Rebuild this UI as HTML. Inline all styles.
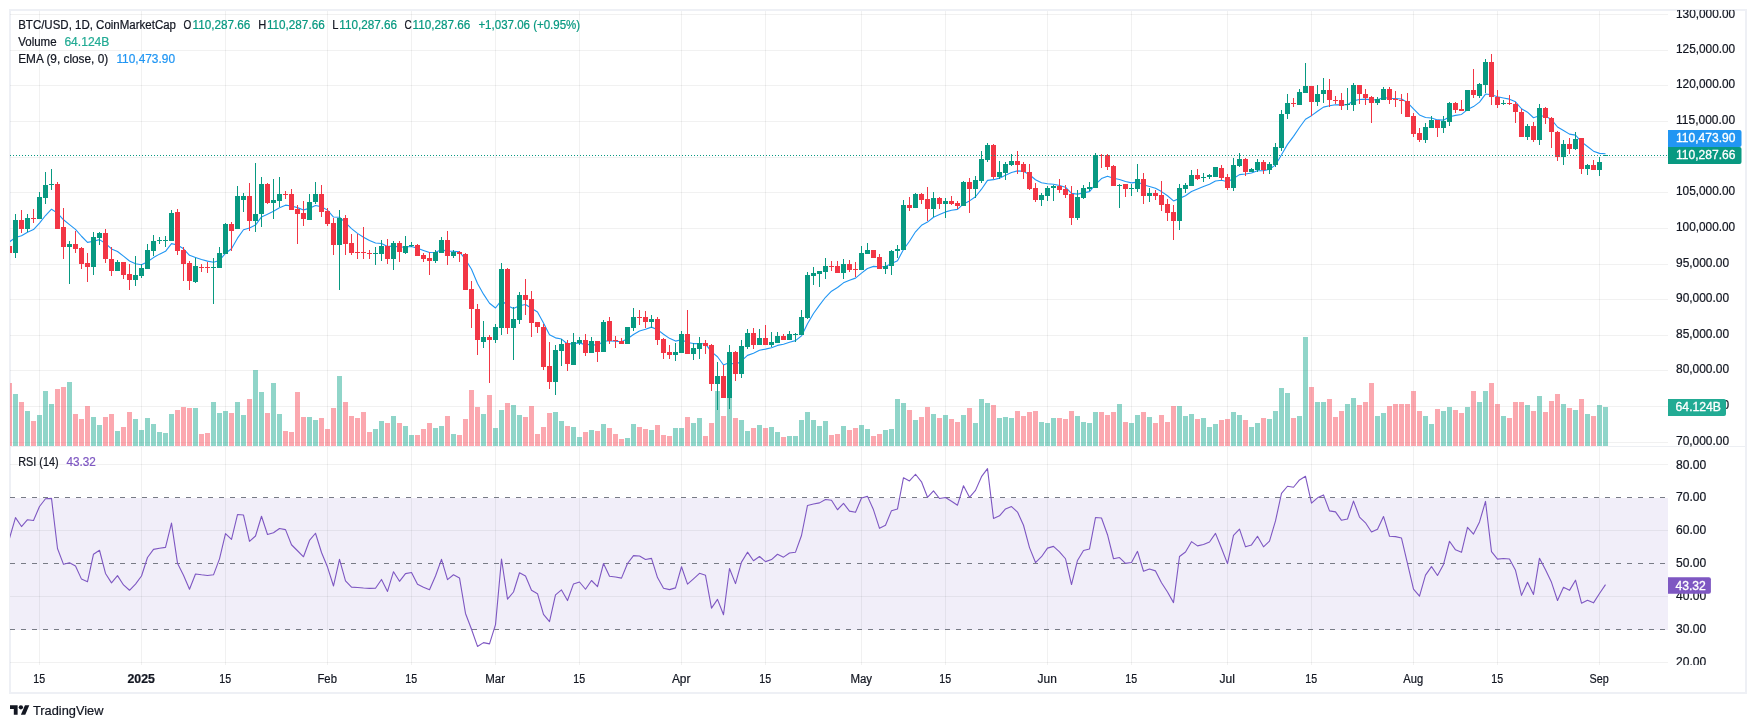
<!DOCTYPE html><html><head><meta charset="utf-8"><title>BTC/USD</title><style>html,body{margin:0;padding:0;background:#fff;width:1756px;height:728px;overflow:hidden}</style></head><body><svg width="1756" height="728" viewBox="0 0 1756 728" style="position:absolute;left:0;top:0;will-change:transform;font-family:'Liberation Sans',sans-serif">
<rect x="0" y="0" width="1756" height="728" fill="#fff"/>
<rect x="10" y="10" width="1736" height="683" fill="none" stroke="#eef0f5" stroke-width="2" shape-rendering="crispEdges"/>
<defs><clipPath id="cp"><rect x="10" y="10" width="1658" height="437"/></clipPath><clipPath id="cr"><rect x="10" y="447" width="1658" height="215"/></clipPath><clipPath id="ca"><rect x="1668" y="10" width="77" height="437"/></clipPath><clipPath id="cb"><rect x="1668" y="447" width="77" height="218"/></clipPath></defs>
<rect x="10" y="497.5" width="1658" height="132" fill="#f1eef9" shape-rendering="crispEdges"/>
<g shape-rendering="crispEdges" fill="rgba(40,50,45,0.065)"><rect x="10" y="14" width="1658" height="1"/><rect x="10" y="50" width="1658" height="1"/><rect x="10" y="85" width="1658" height="1"/><rect x="10" y="121" width="1658" height="1"/><rect x="10" y="157" width="1658" height="1"/><rect x="10" y="192" width="1658" height="1"/><rect x="10" y="228" width="1658" height="1"/><rect x="10" y="264" width="1658" height="1"/><rect x="10" y="299" width="1658" height="1"/><rect x="10" y="335" width="1658" height="1"/><rect x="10" y="370" width="1658" height="1"/><rect x="10" y="406" width="1658" height="1"/><rect x="10" y="442" width="1658" height="1"/><rect x="10" y="464" width="1658" height="1"/><rect x="10" y="530" width="1658" height="1"/><rect x="10" y="596" width="1658" height="1"/><rect x="10" y="662" width="1658" height="1"/><rect x="39" y="11" width="1" height="654"/><rect x="141" y="11" width="1" height="654"/><rect x="225" y="11" width="1" height="654"/><rect x="327" y="11" width="1" height="654"/><rect x="411" y="11" width="1" height="654"/><rect x="495" y="11" width="1" height="654"/><rect x="579" y="11" width="1" height="654"/><rect x="681" y="11" width="1" height="654"/><rect x="765" y="11" width="1" height="654"/><rect x="861" y="11" width="1" height="654"/><rect x="945" y="11" width="1" height="654"/><rect x="1047" y="11" width="1" height="654"/><rect x="1131" y="11" width="1" height="654"/><rect x="1227" y="11" width="1" height="654"/><rect x="1311" y="11" width="1" height="654"/><rect x="1413" y="11" width="1" height="654"/><rect x="1497" y="11" width="1" height="654"/><rect x="1599" y="11" width="1" height="654"/></g>
<g shape-rendering="crispEdges" fill="#edeff3"><rect x="11" y="446" width="1734" height="1"/></g>
<g shape-rendering="crispEdges" clip-path="url(#cp)"><rect x="7" y="383.2" width="5" height="62.8" fill="rgba(247,82,95,0.5)"/><rect x="13" y="394.2" width="5" height="51.8" fill="rgba(34,171,148,0.5)"/><rect x="19" y="402.2" width="5" height="43.8" fill="rgba(247,82,95,0.5)"/><rect x="25" y="411.1" width="5" height="34.9" fill="rgba(34,171,148,0.5)"/><rect x="31" y="421.1" width="5" height="24.9" fill="rgba(247,82,95,0.5)"/><rect x="37" y="415.1" width="5" height="30.9" fill="rgba(34,171,148,0.5)"/><rect x="43" y="391.2" width="5" height="54.8" fill="rgba(34,171,148,0.5)"/><rect x="49" y="404.1" width="5" height="41.9" fill="rgba(34,171,148,0.5)"/><rect x="55" y="389.2" width="5" height="56.8" fill="rgba(247,82,95,0.5)"/><rect x="61" y="387.2" width="5" height="58.8" fill="rgba(247,82,95,0.5)"/><rect x="67" y="382.2" width="5" height="63.8" fill="rgba(34,171,148,0.5)"/><rect x="73" y="414.1" width="5" height="31.9" fill="rgba(247,82,95,0.5)"/><rect x="79" y="419.1" width="5" height="26.9" fill="rgba(247,82,95,0.5)"/><rect x="85" y="406.1" width="5" height="39.9" fill="rgba(247,82,95,0.5)"/><rect x="91" y="417.1" width="5" height="28.9" fill="rgba(34,171,148,0.5)"/><rect x="97" y="425.1" width="5" height="20.9" fill="rgba(34,171,148,0.5)"/><rect x="103" y="417.1" width="5" height="28.9" fill="rgba(247,82,95,0.5)"/><rect x="109" y="414.1" width="5" height="31.9" fill="rgba(247,82,95,0.5)"/><rect x="115" y="431.1" width="5" height="14.9" fill="rgba(34,171,148,0.5)"/><rect x="121" y="427.1" width="5" height="18.9" fill="rgba(247,82,95,0.5)"/><rect x="127" y="412.1" width="5" height="33.9" fill="rgba(247,82,95,0.5)"/><rect x="133" y="419.1" width="5" height="26.9" fill="rgba(34,171,148,0.5)"/><rect x="139" y="430.1" width="5" height="15.9" fill="rgba(34,171,148,0.5)"/><rect x="145" y="418.1" width="5" height="27.9" fill="rgba(34,171,148,0.5)"/><rect x="151" y="424.1" width="5" height="21.9" fill="rgba(34,171,148,0.5)"/><rect x="157" y="432.0" width="5" height="14.0" fill="rgba(34,171,148,0.5)"/><rect x="163" y="433.0" width="5" height="13.0" fill="rgba(34,171,148,0.5)"/><rect x="169" y="414.1" width="5" height="31.9" fill="rgba(34,171,148,0.5)"/><rect x="175" y="410.1" width="5" height="35.9" fill="rgba(247,82,95,0.5)"/><rect x="181" y="407.1" width="5" height="38.9" fill="rgba(247,82,95,0.5)"/><rect x="187" y="408.1" width="5" height="37.9" fill="rgba(247,82,95,0.5)"/><rect x="193" y="408.1" width="5" height="37.9" fill="rgba(34,171,148,0.5)"/><rect x="199" y="434.0" width="5" height="12.0" fill="rgba(247,82,95,0.5)"/><rect x="205" y="433.0" width="5" height="13.0" fill="rgba(247,82,95,0.5)"/><rect x="211" y="402.2" width="5" height="43.8" fill="rgba(34,171,148,0.5)"/><rect x="217" y="413.1" width="5" height="32.9" fill="rgba(34,171,148,0.5)"/><rect x="223" y="411.1" width="5" height="34.9" fill="rgba(34,171,148,0.5)"/><rect x="229" y="413.1" width="5" height="32.9" fill="rgba(247,82,95,0.5)"/><rect x="235" y="402.2" width="5" height="43.8" fill="rgba(34,171,148,0.5)"/><rect x="241" y="415.1" width="5" height="30.9" fill="rgba(34,171,148,0.5)"/><rect x="247" y="399.2" width="5" height="46.8" fill="rgba(247,82,95,0.5)"/><rect x="253" y="370.1" width="5" height="75.9" fill="rgba(34,171,148,0.5)"/><rect x="259" y="392.2" width="5" height="53.8" fill="rgba(34,171,148,0.5)"/><rect x="265" y="413.1" width="5" height="32.9" fill="rgba(247,82,95,0.5)"/><rect x="271" y="383.2" width="5" height="62.8" fill="rgba(34,171,148,0.5)"/><rect x="277" y="414.1" width="5" height="31.9" fill="rgba(34,171,148,0.5)"/><rect x="283" y="431.1" width="5" height="14.9" fill="rgba(247,82,95,0.5)"/><rect x="289" y="432.0" width="5" height="14.0" fill="rgba(247,82,95,0.5)"/><rect x="295" y="392.2" width="5" height="53.8" fill="rgba(247,82,95,0.5)"/><rect x="301" y="417.1" width="5" height="28.9" fill="rgba(247,82,95,0.5)"/><rect x="307" y="417.1" width="5" height="28.9" fill="rgba(34,171,148,0.5)"/><rect x="313" y="420.1" width="5" height="25.9" fill="rgba(34,171,148,0.5)"/><rect x="319" y="418.1" width="5" height="27.9" fill="rgba(247,82,95,0.5)"/><rect x="325" y="429.1" width="5" height="16.9" fill="rgba(247,82,95,0.5)"/><rect x="331" y="408.1" width="5" height="37.9" fill="rgba(247,82,95,0.5)"/><rect x="337" y="376.2" width="5" height="69.8" fill="rgba(34,171,148,0.5)"/><rect x="343" y="402.2" width="5" height="43.8" fill="rgba(247,82,95,0.5)"/><rect x="349" y="416.1" width="5" height="29.9" fill="rgba(247,82,95,0.5)"/><rect x="355" y="418.1" width="5" height="27.9" fill="rgba(247,82,95,0.5)"/><rect x="361" y="412.1" width="5" height="33.9" fill="rgba(247,82,95,0.5)"/><rect x="367" y="432.0" width="5" height="14.0" fill="rgba(247,82,95,0.5)"/><rect x="373" y="429.1" width="5" height="16.9" fill="rgba(34,171,148,0.5)"/><rect x="379" y="421.1" width="5" height="24.9" fill="rgba(34,171,148,0.5)"/><rect x="385" y="423.1" width="5" height="22.9" fill="rgba(247,82,95,0.5)"/><rect x="391" y="416.1" width="5" height="29.9" fill="rgba(34,171,148,0.5)"/><rect x="397" y="423.1" width="5" height="22.9" fill="rgba(247,82,95,0.5)"/><rect x="403" y="426.1" width="5" height="19.9" fill="rgba(34,171,148,0.5)"/><rect x="409" y="435.0" width="5" height="11.0" fill="rgba(34,171,148,0.5)"/><rect x="415" y="435.0" width="5" height="11.0" fill="rgba(247,82,95,0.5)"/><rect x="421" y="429.1" width="5" height="16.9" fill="rgba(247,82,95,0.5)"/><rect x="427" y="423.1" width="5" height="22.9" fill="rgba(247,82,95,0.5)"/><rect x="433" y="428.1" width="5" height="17.9" fill="rgba(34,171,148,0.5)"/><rect x="439" y="426.1" width="5" height="19.9" fill="rgba(34,171,148,0.5)"/><rect x="445" y="416.1" width="5" height="29.9" fill="rgba(247,82,95,0.5)"/><rect x="451" y="434.0" width="5" height="12.0" fill="rgba(34,171,148,0.5)"/><rect x="457" y="435.0" width="5" height="11.0" fill="rgba(247,82,95,0.5)"/><rect x="463" y="419.1" width="5" height="26.9" fill="rgba(247,82,95,0.5)"/><rect x="469" y="390.2" width="5" height="55.8" fill="rgba(247,82,95,0.5)"/><rect x="475" y="407.1" width="5" height="38.9" fill="rgba(247,82,95,0.5)"/><rect x="481" y="414.1" width="5" height="31.9" fill="rgba(34,171,148,0.5)"/><rect x="487" y="395.2" width="5" height="50.8" fill="rgba(247,82,95,0.5)"/><rect x="493" y="428.0" width="5" height="18.0" fill="rgba(34,171,148,0.5)"/><rect x="499" y="409.9" width="5" height="36.1" fill="rgba(34,171,148,0.5)"/><rect x="505" y="402.9" width="5" height="43.1" fill="rgba(247,82,95,0.5)"/><rect x="511" y="405.1" width="5" height="40.9" fill="rgba(34,171,148,0.5)"/><rect x="517" y="414.9" width="5" height="31.1" fill="rgba(34,171,148,0.5)"/><rect x="523" y="417.0" width="5" height="29.0" fill="rgba(247,82,95,0.5)"/><rect x="529" y="406.0" width="5" height="40.0" fill="rgba(247,82,95,0.5)"/><rect x="535" y="434.0" width="5" height="12.0" fill="rgba(247,82,95,0.5)"/><rect x="541" y="427.1" width="5" height="18.9" fill="rgba(247,82,95,0.5)"/><rect x="547" y="413.0" width="5" height="33.0" fill="rgba(247,82,95,0.5)"/><rect x="553" y="412.0" width="5" height="34.0" fill="rgba(34,171,148,0.5)"/><rect x="559" y="420.9" width="5" height="25.1" fill="rgba(34,171,148,0.5)"/><rect x="565" y="425.9" width="5" height="20.1" fill="rgba(247,82,95,0.5)"/><rect x="571" y="427.1" width="5" height="18.9" fill="rgba(34,171,148,0.5)"/><rect x="577" y="437.1" width="5" height="8.9" fill="rgba(34,171,148,0.5)"/><rect x="583" y="432.1" width="5" height="13.9" fill="rgba(247,82,95,0.5)"/><rect x="589" y="430.0" width="5" height="16.0" fill="rgba(34,171,148,0.5)"/><rect x="595" y="431.1" width="5" height="14.9" fill="rgba(247,82,95,0.5)"/><rect x="601" y="424.0" width="5" height="22.0" fill="rgba(34,171,148,0.5)"/><rect x="607" y="428.0" width="5" height="18.0" fill="rgba(247,82,95,0.5)"/><rect x="613" y="434.0" width="5" height="12.0" fill="rgba(247,82,95,0.5)"/><rect x="619" y="439.1" width="5" height="6.9" fill="rgba(247,82,95,0.5)"/><rect x="625" y="438.1" width="5" height="7.9" fill="rgba(34,171,148,0.5)"/><rect x="631" y="424.0" width="5" height="22.0" fill="rgba(34,171,148,0.5)"/><rect x="637" y="427.1" width="5" height="18.9" fill="rgba(247,82,95,0.5)"/><rect x="643" y="429.0" width="5" height="17.0" fill="rgba(247,82,95,0.5)"/><rect x="649" y="430.0" width="5" height="16.0" fill="rgba(34,171,148,0.5)"/><rect x="655" y="424.9" width="5" height="21.1" fill="rgba(247,82,95,0.5)"/><rect x="661" y="435.0" width="5" height="11.0" fill="rgba(247,82,95,0.5)"/><rect x="667" y="436.0" width="5" height="10.0" fill="rgba(247,82,95,0.5)"/><rect x="673" y="428.0" width="5" height="18.0" fill="rgba(34,171,148,0.5)"/><rect x="679" y="428.0" width="5" height="18.0" fill="rgba(34,171,148,0.5)"/><rect x="685" y="417.0" width="5" height="29.0" fill="rgba(247,82,95,0.5)"/><rect x="691" y="423.0" width="5" height="23.0" fill="rgba(34,171,148,0.5)"/><rect x="697" y="418.0" width="5" height="28.0" fill="rgba(34,171,148,0.5)"/><rect x="703" y="436.0" width="5" height="10.0" fill="rgba(247,82,95,0.5)"/><rect x="709" y="423.0" width="5" height="23.0" fill="rgba(247,82,95,0.5)"/><rect x="715" y="390.9" width="5" height="55.1" fill="rgba(34,171,148,0.5)"/><rect x="721" y="415.9" width="5" height="30.1" fill="rgba(247,82,95,0.5)"/><rect x="727" y="396.5" width="5" height="49.5" fill="rgba(34,171,148,0.5)"/><rect x="733" y="418.0" width="5" height="28.0" fill="rgba(247,82,95,0.5)"/><rect x="739" y="419.9" width="5" height="26.1" fill="rgba(34,171,148,0.5)"/><rect x="745" y="431.1" width="5" height="14.9" fill="rgba(34,171,148,0.5)"/><rect x="751" y="428.0" width="5" height="18.0" fill="rgba(247,82,95,0.5)"/><rect x="757" y="424.9" width="5" height="21.1" fill="rgba(34,171,148,0.5)"/><rect x="763" y="428.0" width="5" height="18.0" fill="rgba(247,82,95,0.5)"/><rect x="769" y="426.9" width="5" height="19.1" fill="rgba(34,171,148,0.5)"/><rect x="775" y="432.1" width="5" height="13.9" fill="rgba(34,171,148,0.5)"/><rect x="781" y="437.0" width="5" height="9.0" fill="rgba(247,82,95,0.5)"/><rect x="787" y="436.0" width="5" height="10.0" fill="rgba(34,171,148,0.5)"/><rect x="793" y="436.0" width="5" height="10.0" fill="rgba(34,171,148,0.5)"/><rect x="799" y="420.1" width="5" height="25.9" fill="rgba(34,171,148,0.5)"/><rect x="805" y="412.1" width="5" height="33.9" fill="rgba(34,171,148,0.5)"/><rect x="811" y="420.1" width="5" height="25.9" fill="rgba(34,171,148,0.5)"/><rect x="817" y="426.1" width="5" height="19.9" fill="rgba(34,171,148,0.5)"/><rect x="823" y="421.1" width="5" height="24.9" fill="rgba(34,171,148,0.5)"/><rect x="829" y="435.0" width="5" height="11.0" fill="rgba(247,82,95,0.5)"/><rect x="835" y="434.0" width="5" height="12.0" fill="rgba(247,82,95,0.5)"/><rect x="841" y="426.1" width="5" height="19.9" fill="rgba(34,171,148,0.5)"/><rect x="847" y="430.1" width="5" height="15.9" fill="rgba(247,82,95,0.5)"/><rect x="853" y="428.1" width="5" height="17.9" fill="rgba(247,82,95,0.5)"/><rect x="859" y="425.1" width="5" height="20.9" fill="rgba(34,171,148,0.5)"/><rect x="865" y="429.1" width="5" height="16.9" fill="rgba(34,171,148,0.5)"/><rect x="871" y="436.0" width="5" height="10.0" fill="rgba(247,82,95,0.5)"/><rect x="877" y="434.0" width="5" height="12.0" fill="rgba(247,82,95,0.5)"/><rect x="883" y="430.1" width="5" height="15.9" fill="rgba(34,171,148,0.5)"/><rect x="889" y="429.1" width="5" height="16.9" fill="rgba(34,171,148,0.5)"/><rect x="895" y="399.2" width="5" height="46.8" fill="rgba(34,171,148,0.5)"/><rect x="901" y="403.1" width="5" height="42.9" fill="rgba(34,171,148,0.5)"/><rect x="907" y="410.1" width="5" height="35.9" fill="rgba(247,82,95,0.5)"/><rect x="913" y="420.1" width="5" height="25.9" fill="rgba(34,171,148,0.5)"/><rect x="919" y="417.1" width="5" height="28.9" fill="rgba(247,82,95,0.5)"/><rect x="925" y="407.1" width="5" height="38.9" fill="rgba(247,82,95,0.5)"/><rect x="931" y="414.1" width="5" height="31.9" fill="rgba(34,171,148,0.5)"/><rect x="937" y="418.1" width="5" height="27.9" fill="rgba(247,82,95,0.5)"/><rect x="943" y="415.1" width="5" height="30.9" fill="rgba(34,171,148,0.5)"/><rect x="949" y="419.1" width="5" height="26.9" fill="rgba(247,82,95,0.5)"/><rect x="955" y="422.1" width="5" height="23.9" fill="rgba(247,82,95,0.5)"/><rect x="961" y="415.1" width="5" height="30.9" fill="rgba(34,171,148,0.5)"/><rect x="967" y="408.1" width="5" height="37.9" fill="rgba(247,82,95,0.5)"/><rect x="973" y="423.1" width="5" height="22.9" fill="rgba(34,171,148,0.5)"/><rect x="979" y="399.2" width="5" height="46.8" fill="rgba(34,171,148,0.5)"/><rect x="985" y="403.1" width="5" height="42.9" fill="rgba(34,171,148,0.5)"/><rect x="991" y="405.1" width="5" height="40.9" fill="rgba(247,82,95,0.5)"/><rect x="997" y="418.1" width="5" height="27.9" fill="rgba(34,171,148,0.5)"/><rect x="1003" y="417.1" width="5" height="28.9" fill="rgba(34,171,148,0.5)"/><rect x="1009" y="418.1" width="5" height="27.9" fill="rgba(34,171,148,0.5)"/><rect x="1015" y="411.1" width="5" height="34.9" fill="rgba(247,82,95,0.5)"/><rect x="1021" y="416.1" width="5" height="29.9" fill="rgba(247,82,95,0.5)"/><rect x="1027" y="412.1" width="5" height="33.9" fill="rgba(247,82,95,0.5)"/><rect x="1033" y="411.1" width="5" height="34.9" fill="rgba(247,82,95,0.5)"/><rect x="1039" y="422.1" width="5" height="23.9" fill="rgba(34,171,148,0.5)"/><rect x="1045" y="423.1" width="5" height="22.9" fill="rgba(34,171,148,0.5)"/><rect x="1051" y="418.1" width="5" height="27.9" fill="rgba(34,171,148,0.5)"/><rect x="1057" y="418.1" width="5" height="27.9" fill="rgba(247,82,95,0.5)"/><rect x="1063" y="419.1" width="5" height="26.9" fill="rgba(247,82,95,0.5)"/><rect x="1069" y="411.1" width="5" height="34.9" fill="rgba(247,82,95,0.5)"/><rect x="1075" y="416.1" width="5" height="29.9" fill="rgba(34,171,148,0.5)"/><rect x="1081" y="422.1" width="5" height="23.9" fill="rgba(34,171,148,0.5)"/><rect x="1087" y="423.1" width="5" height="22.9" fill="rgba(34,171,148,0.5)"/><rect x="1093" y="412.1" width="5" height="33.9" fill="rgba(34,171,148,0.5)"/><rect x="1099" y="412.1" width="5" height="33.9" fill="rgba(247,82,95,0.5)"/><rect x="1105" y="415.1" width="5" height="30.9" fill="rgba(247,82,95,0.5)"/><rect x="1111" y="412.1" width="5" height="33.9" fill="rgba(247,82,95,0.5)"/><rect x="1117" y="404.1" width="5" height="41.9" fill="rgba(34,171,148,0.5)"/><rect x="1123" y="422.1" width="5" height="23.9" fill="rgba(247,82,95,0.5)"/><rect x="1129" y="423.1" width="5" height="22.9" fill="rgba(34,171,148,0.5)"/><rect x="1135" y="415.1" width="5" height="30.9" fill="rgba(34,171,148,0.5)"/><rect x="1141" y="412.1" width="5" height="33.9" fill="rgba(247,82,95,0.5)"/><rect x="1147" y="417.1" width="5" height="28.9" fill="rgba(34,171,148,0.5)"/><rect x="1153" y="423.1" width="5" height="22.9" fill="rgba(247,82,95,0.5)"/><rect x="1159" y="415.1" width="5" height="30.9" fill="rgba(247,82,95,0.5)"/><rect x="1165" y="422.1" width="5" height="23.9" fill="rgba(247,82,95,0.5)"/><rect x="1171" y="406.1" width="5" height="39.9" fill="rgba(247,82,95,0.5)"/><rect x="1177" y="406.1" width="5" height="39.9" fill="rgba(34,171,148,0.5)"/><rect x="1183" y="416.1" width="5" height="29.9" fill="rgba(34,171,148,0.5)"/><rect x="1189" y="414.1" width="5" height="31.9" fill="rgba(34,171,148,0.5)"/><rect x="1195" y="419.1" width="5" height="26.9" fill="rgba(247,82,95,0.5)"/><rect x="1201" y="418.1" width="5" height="27.9" fill="rgba(34,171,148,0.5)"/><rect x="1207" y="427.1" width="5" height="18.9" fill="rgba(34,171,148,0.5)"/><rect x="1213" y="424.1" width="5" height="21.9" fill="rgba(34,171,148,0.5)"/><rect x="1219" y="420.1" width="5" height="25.9" fill="rgba(247,82,95,0.5)"/><rect x="1225" y="419.1" width="5" height="26.9" fill="rgba(247,82,95,0.5)"/><rect x="1231" y="412.1" width="5" height="33.9" fill="rgba(34,171,148,0.5)"/><rect x="1237" y="415.1" width="5" height="30.9" fill="rgba(34,171,148,0.5)"/><rect x="1243" y="420.1" width="5" height="25.9" fill="rgba(247,82,95,0.5)"/><rect x="1249" y="426.8" width="5" height="19.2" fill="rgba(34,171,148,0.5)"/><rect x="1255" y="422.8" width="5" height="23.2" fill="rgba(34,171,148,0.5)"/><rect x="1261" y="417.8" width="5" height="28.2" fill="rgba(247,82,95,0.5)"/><rect x="1267" y="418.9" width="5" height="27.1" fill="rgba(34,171,148,0.5)"/><rect x="1273" y="410.8" width="5" height="35.2" fill="rgba(34,171,148,0.5)"/><rect x="1279" y="387.8" width="5" height="58.2" fill="rgba(34,171,148,0.5)"/><rect x="1285" y="392.8" width="5" height="53.2" fill="rgba(34,171,148,0.5)"/><rect x="1291" y="417.8" width="5" height="28.2" fill="rgba(247,82,95,0.5)"/><rect x="1297" y="415.8" width="5" height="30.2" fill="rgba(34,171,148,0.5)"/><rect x="1303" y="336.9" width="5" height="109.1" fill="rgba(34,171,148,0.5)"/><rect x="1309" y="386.8" width="5" height="59.2" fill="rgba(247,82,95,0.5)"/><rect x="1315" y="401.9" width="5" height="44.1" fill="rgba(34,171,148,0.5)"/><rect x="1321" y="401.9" width="5" height="44.1" fill="rgba(34,171,148,0.5)"/><rect x="1327" y="398.8" width="5" height="47.2" fill="rgba(247,82,95,0.5)"/><rect x="1333" y="416.8" width="5" height="29.2" fill="rgba(247,82,95,0.5)"/><rect x="1339" y="410.8" width="5" height="35.2" fill="rgba(247,82,95,0.5)"/><rect x="1345" y="403.8" width="5" height="42.2" fill="rgba(34,171,148,0.5)"/><rect x="1351" y="397.7" width="5" height="48.3" fill="rgba(34,171,148,0.5)"/><rect x="1357" y="404.8" width="5" height="41.2" fill="rgba(247,82,95,0.5)"/><rect x="1363" y="401.9" width="5" height="44.1" fill="rgba(247,82,95,0.5)"/><rect x="1369" y="382.8" width="5" height="63.2" fill="rgba(247,82,95,0.5)"/><rect x="1375" y="415.8" width="5" height="30.2" fill="rgba(34,171,148,0.5)"/><rect x="1381" y="412.9" width="5" height="33.1" fill="rgba(34,171,148,0.5)"/><rect x="1387" y="405.8" width="5" height="40.2" fill="rgba(247,82,95,0.5)"/><rect x="1393" y="403.8" width="5" height="42.2" fill="rgba(247,82,95,0.5)"/><rect x="1399" y="403.8" width="5" height="42.2" fill="rgba(247,82,95,0.5)"/><rect x="1405" y="403.8" width="5" height="42.2" fill="rgba(247,82,95,0.5)"/><rect x="1411" y="390.7" width="5" height="55.3" fill="rgba(247,82,95,0.5)"/><rect x="1417" y="410.8" width="5" height="35.2" fill="rgba(247,82,95,0.5)"/><rect x="1423" y="415.8" width="5" height="30.2" fill="rgba(34,171,148,0.5)"/><rect x="1429" y="423.8" width="5" height="22.2" fill="rgba(34,171,148,0.5)"/><rect x="1435" y="408.7" width="5" height="37.3" fill="rgba(247,82,95,0.5)"/><rect x="1441" y="410.8" width="5" height="35.2" fill="rgba(34,171,148,0.5)"/><rect x="1447" y="406.8" width="5" height="39.2" fill="rgba(34,171,148,0.5)"/><rect x="1453" y="409.8" width="5" height="36.2" fill="rgba(247,82,95,0.5)"/><rect x="1459" y="412.9" width="5" height="33.1" fill="rgba(247,82,95,0.5)"/><rect x="1465" y="406.8" width="5" height="39.2" fill="rgba(34,171,148,0.5)"/><rect x="1471" y="390.7" width="5" height="55.3" fill="rgba(247,82,95,0.5)"/><rect x="1477" y="401.9" width="5" height="44.1" fill="rgba(34,171,148,0.5)"/><rect x="1483" y="390.7" width="5" height="55.3" fill="rgba(34,171,148,0.5)"/><rect x="1489" y="382.8" width="5" height="63.2" fill="rgba(247,82,95,0.5)"/><rect x="1495" y="403.8" width="5" height="42.2" fill="rgba(247,82,95,0.5)"/><rect x="1501" y="415.8" width="5" height="30.2" fill="rgba(34,171,148,0.5)"/><rect x="1507" y="417.8" width="5" height="28.2" fill="rgba(247,82,95,0.5)"/><rect x="1513" y="401.9" width="5" height="44.1" fill="rgba(247,82,95,0.5)"/><rect x="1519" y="401.8" width="5" height="44.2" fill="rgba(247,82,95,0.5)"/><rect x="1525" y="404.9" width="5" height="41.1" fill="rgba(34,171,148,0.5)"/><rect x="1531" y="411.0" width="5" height="35.0" fill="rgba(247,82,95,0.5)"/><rect x="1537" y="395.9" width="5" height="50.1" fill="rgba(34,171,148,0.5)"/><rect x="1543" y="411.9" width="5" height="34.1" fill="rgba(247,82,95,0.5)"/><rect x="1549" y="400.8" width="5" height="45.2" fill="rgba(247,82,95,0.5)"/><rect x="1555" y="393.9" width="5" height="52.1" fill="rgba(247,82,95,0.5)"/><rect x="1561" y="403.9" width="5" height="42.1" fill="rgba(34,171,148,0.5)"/><rect x="1567" y="407.9" width="5" height="38.1" fill="rgba(247,82,95,0.5)"/><rect x="1573" y="409.9" width="5" height="36.1" fill="rgba(34,171,148,0.5)"/><rect x="1579" y="398.8" width="5" height="47.2" fill="rgba(247,82,95,0.5)"/><rect x="1585" y="413.9" width="5" height="32.1" fill="rgba(34,171,148,0.5)"/><rect x="1591" y="415.9" width="5" height="30.1" fill="rgba(247,82,95,0.5)"/><rect x="1597" y="404.9" width="5" height="41.1" fill="rgba(34,171,148,0.5)"/><rect x="1603" y="406.9" width="5" height="39.1" fill="rgba(34,171,148,0.5)"/></g>
<polyline points="9.5,241.82 15.5,237.48 21.5,235.70 27.5,232.18 33.5,229.61 39.5,223.10 45.5,215.51 51.5,209.23 57.5,213.10 63.5,219.78 69.5,224.63 75.5,229.42 81.5,236.26 87.5,242.34 93.5,241.32 99.5,239.60 105.5,243.45 111.5,248.93 117.5,251.53 123.5,256.17 129.5,261.04 135.5,263.82 141.5,264.68 147.5,261.75 153.5,257.59 159.5,254.13 165.5,251.29 171.5,243.60 177.5,245.08 183.5,248.81 189.5,255.34 195.5,257.47 201.5,259.47 207.5,261.15 213.5,262.33 219.5,260.47 225.5,253.21 231.5,248.72 237.5,238.17 243.5,229.73 249.5,227.92 255.5,225.11 261.5,216.89 267.5,214.14 273.5,211.33 279.5,207.84 285.5,205.13 291.5,206.06 297.5,207.62 303.5,209.90 309.5,208.35 315.5,205.46 321.5,206.73 327.5,210.14 333.5,217.07 339.5,217.25 345.5,222.55 351.5,228.57 357.5,233.38 363.5,237.22 369.5,240.51 375.5,243.01 381.5,243.57 387.5,246.58 393.5,245.89 399.5,247.19 405.5,246.92 411.5,246.49 417.5,248.34 423.5,250.43 429.5,252.47 435.5,252.30 441.5,249.85 447.5,251.14 453.5,251.27 459.5,251.87 465.5,259.44 471.5,269.33 477.5,283.42 483.5,294.16 489.5,303.28 495.5,307.99 501.5,300.21 507.5,305.74 513.5,308.43 519.5,305.71 525.5,304.49 531.5,308.17 537.5,312.02 543.5,323.01 549.5,334.78 555.5,337.84 561.5,339.05 567.5,344.02 573.5,343.67 579.5,342.89 585.5,344.87 591.5,344.14 597.5,345.66 603.5,340.98 609.5,341.07 615.5,341.15 621.5,341.70 627.5,338.76 633.5,334.43 639.5,331.05 645.5,329.21 651.5,327.12 657.5,329.66 663.5,334.28 669.5,338.35 675.5,341.11 681.5,339.69 687.5,342.47 693.5,343.58 699.5,343.44 705.5,343.95 711.5,351.89 717.5,356.72 723.5,364.96 729.5,362.40 735.5,364.68 741.5,360.93 747.5,355.39 753.5,353.30 759.5,350.26 765.5,349.12 771.5,347.75 777.5,345.41 783.5,344.30 789.5,342.26 795.5,340.62 801.5,335.90 807.5,323.71 813.5,313.54 819.5,305.08 825.5,297.28 831.5,291.21 837.5,287.55 843.5,282.84 849.5,280.23 855.5,278.11 861.5,273.11 867.5,268.49 873.5,266.36 879.5,266.80 885.5,266.59 891.5,263.53 897.5,260.68 903.5,249.53 909.5,241.23 915.5,231.79 921.5,225.35 927.5,222.06 933.5,217.27 939.5,214.56 945.5,211.90 951.5,210.30 957.5,209.40 963.5,203.93 969.5,200.92 975.5,196.74 981.5,189.19 987.5,180.35 993.5,179.67 999.5,178.13 1005.5,175.33 1011.5,172.48 1017.5,170.90 1023.5,171.20 1029.5,174.73 1035.5,179.75 1041.5,182.81 1047.5,183.82 1053.5,184.29 1059.5,185.42 1065.5,187.26 1071.5,193.36 1077.5,194.11 1083.5,192.86 1089.5,191.65 1095.5,184.29 1101.5,178.53 1107.5,176.15 1113.5,178.20 1119.5,179.51 1125.5,181.51 1131.5,182.86 1137.5,182.09 1143.5,184.80 1149.5,186.44 1155.5,188.29 1161.5,191.58 1167.5,195.78 1173.5,200.91 1179.5,198.38 1185.5,195.74 1191.5,191.56 1197.5,189.05 1203.5,186.54 1209.5,184.33 1215.5,180.95 1221.5,180.32 1227.5,181.78 1233.5,178.50 1239.5,174.65 1245.5,174.03 1251.5,173.05 1257.5,170.81 1263.5,170.68 1269.5,169.33 1275.5,164.92 1281.5,154.71 1287.5,144.40 1293.5,136.32 1299.5,127.50 1305.5,119.21 1311.5,115.67 1317.5,111.32 1323.5,107.09 1329.5,105.77 1335.5,104.71 1341.5,104.90 1347.5,104.71 1353.5,100.78 1359.5,99.48 1365.5,99.15 1371.5,99.83 1377.5,99.75 1383.5,97.63 1389.5,98.20 1395.5,98.62 1401.5,99.07 1407.5,102.57 1413.5,108.83 1419.5,114.99 1425.5,117.45 1431.5,117.97 1437.5,119.91 1443.5,120.15 1449.5,116.75 1455.5,115.35 1461.5,114.44 1467.5,109.59 1473.5,106.61 1479.5,102.09 1485.5,94.06 1491.5,94.73 1497.5,96.70 1503.5,97.95 1509.5,99.16 1515.5,101.82 1521.5,108.76 1527.5,112.18 1533.5,117.75 1539.5,115.82 1545.5,116.34 1551.5,119.56 1557.5,126.98 1563.5,130.43 1569.5,134.11 1575.5,135.11 1581.5,141.88 1587.5,146.50 1593.5,151.16 1599.5,153.36 1605.5,153.79" fill="none" stroke="#2196f3" stroke-width="1.1" stroke-linejoin="round" clip-path="url(#cp)"/>
<g shape-rendering="crispEdges" clip-path="url(#cp)"><rect x="9" y="246" width="1" height="7" fill="#f23645"/><rect x="7" y="246" width="5" height="7" fill="#f23645"/><rect x="15" y="214" width="1" height="44" fill="#089981"/><rect x="13" y="220" width="5" height="33" fill="#089981"/><rect x="21" y="210" width="1" height="23" fill="#f23645"/><rect x="19" y="220" width="5" height="9" fill="#f23645"/><rect x="27" y="214" width="1" height="18" fill="#089981"/><rect x="25" y="218" width="5" height="11" fill="#089981"/><rect x="33" y="209" width="1" height="14" fill="#f23645"/><rect x="31" y="218" width="5" height="1" fill="#f23645"/><rect x="39" y="192" width="1" height="27" fill="#089981"/><rect x="37" y="197" width="5" height="22" fill="#089981"/><rect x="45" y="172" width="1" height="32" fill="#089981"/><rect x="43" y="185" width="5" height="13" fill="#089981"/><rect x="51" y="169" width="1" height="21" fill="#089981"/><rect x="49" y="184" width="5" height="1" fill="#089981"/><rect x="57" y="182" width="1" height="47" fill="#f23645"/><rect x="55" y="184" width="5" height="45" fill="#f23645"/><rect x="63" y="208" width="1" height="51" fill="#f23645"/><rect x="61" y="227" width="5" height="20" fill="#f23645"/><rect x="69" y="241" width="1" height="43" fill="#089981"/><rect x="67" y="244" width="5" height="3" fill="#089981"/><rect x="75" y="231" width="1" height="22" fill="#f23645"/><rect x="73" y="244" width="5" height="5" fill="#f23645"/><rect x="81" y="247" width="1" height="22" fill="#f23645"/><rect x="79" y="248" width="5" height="16" fill="#f23645"/><rect x="87" y="253" width="1" height="29" fill="#f23645"/><rect x="85" y="263" width="5" height="4" fill="#f23645"/><rect x="93" y="232" width="1" height="43" fill="#089981"/><rect x="91" y="237" width="5" height="30" fill="#089981"/><rect x="99" y="232" width="1" height="13" fill="#089981"/><rect x="97" y="233" width="5" height="5" fill="#089981"/><rect x="105" y="229" width="1" height="34" fill="#f23645"/><rect x="103" y="233" width="5" height="26" fill="#f23645"/><rect x="111" y="247" width="1" height="29" fill="#f23645"/><rect x="109" y="259" width="5" height="12" fill="#f23645"/><rect x="117" y="260" width="1" height="11" fill="#089981"/><rect x="115" y="262" width="5" height="9" fill="#089981"/><rect x="123" y="262" width="1" height="17" fill="#f23645"/><rect x="121" y="262" width="5" height="13" fill="#f23645"/><rect x="129" y="264" width="1" height="26" fill="#f23645"/><rect x="127" y="274" width="5" height="6" fill="#f23645"/><rect x="135" y="256" width="1" height="30" fill="#089981"/><rect x="133" y="275" width="5" height="5" fill="#089981"/><rect x="141" y="264" width="1" height="14" fill="#089981"/><rect x="139" y="268" width="5" height="8" fill="#089981"/><rect x="147" y="244" width="1" height="25" fill="#089981"/><rect x="145" y="250" width="5" height="19" fill="#089981"/><rect x="153" y="235" width="1" height="21" fill="#089981"/><rect x="151" y="241" width="5" height="10" fill="#089981"/><rect x="159" y="237" width="1" height="7" fill="#089981"/><rect x="157" y="240" width="5" height="1" fill="#089981"/><rect x="165" y="236" width="1" height="11" fill="#089981"/><rect x="163" y="240" width="5" height="1" fill="#089981"/><rect x="171" y="210" width="1" height="31" fill="#089981"/><rect x="169" y="213" width="5" height="28" fill="#089981"/><rect x="177" y="209" width="1" height="46" fill="#f23645"/><rect x="175" y="212" width="5" height="39" fill="#f23645"/><rect x="183" y="247" width="1" height="34" fill="#f23645"/><rect x="181" y="250" width="5" height="14" fill="#f23645"/><rect x="189" y="261" width="1" height="29" fill="#f23645"/><rect x="187" y="263" width="5" height="18" fill="#f23645"/><rect x="195" y="258" width="1" height="25" fill="#089981"/><rect x="193" y="266" width="5" height="16" fill="#089981"/><rect x="201" y="264" width="1" height="8" fill="#f23645"/><rect x="199" y="267" width="5" height="1" fill="#f23645"/><rect x="207" y="262" width="1" height="11" fill="#f23645"/><rect x="205" y="267" width="5" height="1" fill="#f23645"/><rect x="213" y="258" width="1" height="46" fill="#089981"/><rect x="211" y="267" width="5" height="1" fill="#089981"/><rect x="219" y="247" width="1" height="21" fill="#089981"/><rect x="217" y="253" width="5" height="15" fill="#089981"/><rect x="225" y="223" width="1" height="31" fill="#089981"/><rect x="223" y="224" width="5" height="30" fill="#089981"/><rect x="231" y="222" width="1" height="29" fill="#f23645"/><rect x="229" y="224" width="5" height="7" fill="#f23645"/><rect x="237" y="186" width="1" height="43" fill="#089981"/><rect x="235" y="196" width="5" height="33" fill="#089981"/><rect x="243" y="193" width="1" height="19" fill="#089981"/><rect x="241" y="196" width="5" height="4" fill="#089981"/><rect x="249" y="183" width="1" height="48" fill="#f23645"/><rect x="247" y="196" width="5" height="25" fill="#f23645"/><rect x="255" y="163" width="1" height="69" fill="#089981"/><rect x="253" y="214" width="5" height="7" fill="#089981"/><rect x="261" y="177" width="1" height="50" fill="#089981"/><rect x="259" y="184" width="5" height="30" fill="#089981"/><rect x="267" y="183" width="1" height="21" fill="#f23645"/><rect x="265" y="184" width="5" height="19" fill="#f23645"/><rect x="273" y="179" width="1" height="40" fill="#089981"/><rect x="271" y="200" width="5" height="3" fill="#089981"/><rect x="279" y="177" width="1" height="30" fill="#089981"/><rect x="277" y="194" width="5" height="7" fill="#089981"/><rect x="285" y="191" width="1" height="8" fill="#f23645"/><rect x="283" y="194" width="5" height="1" fill="#f23645"/><rect x="291" y="189" width="1" height="21" fill="#f23645"/><rect x="289" y="194" width="5" height="16" fill="#f23645"/><rect x="297" y="205" width="1" height="39" fill="#f23645"/><rect x="295" y="209" width="5" height="5" fill="#f23645"/><rect x="303" y="201" width="1" height="25" fill="#f23645"/><rect x="301" y="213" width="5" height="6" fill="#f23645"/><rect x="309" y="194" width="1" height="26" fill="#089981"/><rect x="307" y="202" width="5" height="18" fill="#089981"/><rect x="315" y="182" width="1" height="22" fill="#089981"/><rect x="313" y="194" width="5" height="8" fill="#089981"/><rect x="321" y="185" width="1" height="32" fill="#f23645"/><rect x="319" y="194" width="5" height="18" fill="#f23645"/><rect x="327" y="208" width="1" height="18" fill="#f23645"/><rect x="325" y="211" width="5" height="13" fill="#f23645"/><rect x="333" y="218" width="1" height="37" fill="#f23645"/><rect x="331" y="223" width="5" height="22" fill="#f23645"/><rect x="339" y="210" width="1" height="80" fill="#089981"/><rect x="337" y="218" width="5" height="27" fill="#089981"/><rect x="345" y="215" width="1" height="40" fill="#f23645"/><rect x="343" y="218" width="5" height="26" fill="#f23645"/><rect x="351" y="234" width="1" height="21" fill="#f23645"/><rect x="349" y="243" width="5" height="10" fill="#f23645"/><rect x="357" y="234" width="1" height="25" fill="#f23645"/><rect x="355" y="252" width="5" height="1" fill="#f23645"/><rect x="363" y="227" width="1" height="32" fill="#f23645"/><rect x="361" y="252" width="5" height="1" fill="#f23645"/><rect x="369" y="250" width="1" height="9" fill="#f23645"/><rect x="367" y="253" width="5" height="1" fill="#f23645"/><rect x="375" y="247" width="1" height="18" fill="#089981"/><rect x="373" y="253" width="5" height="1" fill="#089981"/><rect x="381" y="240" width="1" height="21" fill="#089981"/><rect x="379" y="246" width="5" height="8" fill="#089981"/><rect x="387" y="239" width="1" height="25" fill="#f23645"/><rect x="385" y="246" width="5" height="13" fill="#f23645"/><rect x="393" y="241" width="1" height="29" fill="#089981"/><rect x="391" y="243" width="5" height="16" fill="#089981"/><rect x="399" y="241" width="1" height="21" fill="#f23645"/><rect x="397" y="243" width="5" height="9" fill="#f23645"/><rect x="405" y="236" width="1" height="18" fill="#089981"/><rect x="403" y="246" width="5" height="7" fill="#089981"/><rect x="411" y="242" width="1" height="5" fill="#089981"/><rect x="409" y="245" width="5" height="1" fill="#089981"/><rect x="417" y="244" width="1" height="12" fill="#f23645"/><rect x="415" y="245" width="5" height="11" fill="#f23645"/><rect x="423" y="253" width="1" height="9" fill="#f23645"/><rect x="421" y="255" width="5" height="4" fill="#f23645"/><rect x="429" y="252" width="1" height="23" fill="#f23645"/><rect x="427" y="258" width="5" height="3" fill="#f23645"/><rect x="435" y="250" width="1" height="13" fill="#089981"/><rect x="433" y="252" width="5" height="9" fill="#089981"/><rect x="441" y="237" width="1" height="16" fill="#089981"/><rect x="439" y="240" width="5" height="13" fill="#089981"/><rect x="447" y="231" width="1" height="34" fill="#f23645"/><rect x="445" y="240" width="5" height="16" fill="#f23645"/><rect x="453" y="250" width="1" height="8" fill="#089981"/><rect x="451" y="252" width="5" height="4" fill="#089981"/><rect x="459" y="251" width="1" height="11" fill="#f23645"/><rect x="457" y="252" width="5" height="2" fill="#f23645"/><rect x="465" y="253" width="1" height="37" fill="#f23645"/><rect x="463" y="254" width="5" height="36" fill="#f23645"/><rect x="471" y="281" width="1" height="47" fill="#f23645"/><rect x="469" y="289" width="5" height="20" fill="#f23645"/><rect x="477" y="304" width="1" height="51" fill="#f23645"/><rect x="475" y="309" width="5" height="31" fill="#f23645"/><rect x="483" y="321" width="1" height="27" fill="#089981"/><rect x="481" y="337" width="5" height="5" fill="#089981"/><rect x="489" y="335" width="1" height="48" fill="#f23645"/><rect x="487" y="337" width="5" height="3" fill="#f23645"/><rect x="495" y="324" width="1" height="19" fill="#089981"/><rect x="493" y="327" width="5" height="13" fill="#089981"/><rect x="501" y="263" width="1" height="72" fill="#089981"/><rect x="499" y="269" width="5" height="59" fill="#089981"/><rect x="507" y="268" width="1" height="66" fill="#f23645"/><rect x="505" y="269" width="5" height="59" fill="#f23645"/><rect x="513" y="307" width="1" height="53" fill="#089981"/><rect x="511" y="319" width="5" height="9" fill="#089981"/><rect x="519" y="292" width="1" height="32" fill="#089981"/><rect x="517" y="295" width="5" height="25" fill="#089981"/><rect x="525" y="279" width="1" height="36" fill="#f23645"/><rect x="523" y="295" width="5" height="5" fill="#f23645"/><rect x="531" y="291" width="1" height="46" fill="#f23645"/><rect x="529" y="299" width="5" height="24" fill="#f23645"/><rect x="537" y="322" width="1" height="11" fill="#f23645"/><rect x="535" y="322" width="5" height="5" fill="#f23645"/><rect x="543" y="324" width="1" height="46" fill="#f23645"/><rect x="541" y="327" width="5" height="40" fill="#f23645"/><rect x="549" y="342" width="1" height="47" fill="#f23645"/><rect x="547" y="366" width="5" height="16" fill="#f23645"/><rect x="555" y="345" width="1" height="50" fill="#089981"/><rect x="553" y="350" width="5" height="32" fill="#089981"/><rect x="561" y="339" width="1" height="27" fill="#089981"/><rect x="559" y="344" width="5" height="7" fill="#089981"/><rect x="567" y="340" width="1" height="31" fill="#f23645"/><rect x="565" y="343" width="5" height="21" fill="#f23645"/><rect x="573" y="333" width="1" height="32" fill="#089981"/><rect x="571" y="342" width="5" height="23" fill="#089981"/><rect x="579" y="337" width="1" height="8" fill="#089981"/><rect x="577" y="340" width="5" height="3" fill="#089981"/><rect x="585" y="334" width="1" height="22" fill="#f23645"/><rect x="583" y="340" width="5" height="13" fill="#f23645"/><rect x="591" y="337" width="1" height="16" fill="#089981"/><rect x="589" y="341" width="5" height="12" fill="#089981"/><rect x="597" y="341" width="1" height="21" fill="#f23645"/><rect x="595" y="341" width="5" height="11" fill="#f23645"/><rect x="603" y="320" width="1" height="32" fill="#089981"/><rect x="601" y="322" width="5" height="30" fill="#089981"/><rect x="609" y="317" width="1" height="27" fill="#f23645"/><rect x="607" y="321" width="5" height="20" fill="#f23645"/><rect x="615" y="336" width="1" height="12" fill="#f23645"/><rect x="613" y="340" width="5" height="1" fill="#f23645"/><rect x="621" y="338" width="1" height="6" fill="#f23645"/><rect x="619" y="341" width="5" height="3" fill="#f23645"/><rect x="627" y="327" width="1" height="17" fill="#089981"/><rect x="625" y="327" width="5" height="17" fill="#089981"/><rect x="633" y="308" width="1" height="23" fill="#089981"/><rect x="631" y="317" width="5" height="11" fill="#089981"/><rect x="639" y="310" width="1" height="15" fill="#f23645"/><rect x="637" y="317" width="5" height="1" fill="#f23645"/><rect x="645" y="311" width="1" height="17" fill="#f23645"/><rect x="643" y="317" width="5" height="5" fill="#f23645"/><rect x="651" y="315" width="1" height="13" fill="#089981"/><rect x="649" y="319" width="5" height="3" fill="#089981"/><rect x="657" y="317" width="1" height="28" fill="#f23645"/><rect x="655" y="319" width="5" height="21" fill="#f23645"/><rect x="663" y="338" width="1" height="21" fill="#f23645"/><rect x="661" y="339" width="5" height="14" fill="#f23645"/><rect x="669" y="345" width="1" height="14" fill="#f23645"/><rect x="667" y="352" width="5" height="3" fill="#f23645"/><rect x="675" y="343" width="1" height="18" fill="#089981"/><rect x="673" y="352" width="5" height="3" fill="#089981"/><rect x="681" y="331" width="1" height="22" fill="#089981"/><rect x="679" y="334" width="5" height="19" fill="#089981"/><rect x="687" y="310" width="1" height="44" fill="#f23645"/><rect x="685" y="334" width="5" height="20" fill="#f23645"/><rect x="693" y="343" width="1" height="17" fill="#089981"/><rect x="691" y="348" width="5" height="6" fill="#089981"/><rect x="699" y="337" width="1" height="22" fill="#089981"/><rect x="697" y="343" width="5" height="6" fill="#089981"/><rect x="705" y="340" width="1" height="14" fill="#f23645"/><rect x="703" y="343" width="5" height="3" fill="#f23645"/><rect x="711" y="344" width="1" height="47" fill="#f23645"/><rect x="709" y="345" width="5" height="39" fill="#f23645"/><rect x="717" y="362" width="1" height="48" fill="#089981"/><rect x="715" y="376" width="5" height="8" fill="#089981"/><rect x="723" y="365" width="1" height="33" fill="#f23645"/><rect x="721" y="376" width="5" height="22" fill="#f23645"/><rect x="729" y="345" width="1" height="64" fill="#089981"/><rect x="727" y="352" width="5" height="46" fill="#089981"/><rect x="735" y="351" width="1" height="30" fill="#f23645"/><rect x="733" y="352" width="5" height="22" fill="#f23645"/><rect x="741" y="340" width="1" height="38" fill="#089981"/><rect x="739" y="346" width="5" height="28" fill="#089981"/><rect x="747" y="329" width="1" height="20" fill="#089981"/><rect x="745" y="333" width="5" height="14" fill="#089981"/><rect x="753" y="328" width="1" height="21" fill="#f23645"/><rect x="751" y="333" width="5" height="12" fill="#f23645"/><rect x="759" y="329" width="1" height="16" fill="#089981"/><rect x="757" y="338" width="5" height="7" fill="#089981"/><rect x="765" y="325" width="1" height="20" fill="#f23645"/><rect x="763" y="338" width="5" height="7" fill="#f23645"/><rect x="771" y="332" width="1" height="15" fill="#089981"/><rect x="769" y="342" width="5" height="3" fill="#089981"/><rect x="777" y="332" width="1" height="11" fill="#089981"/><rect x="775" y="336" width="5" height="7" fill="#089981"/><rect x="783" y="334" width="1" height="6" fill="#f23645"/><rect x="781" y="336" width="5" height="4" fill="#f23645"/><rect x="789" y="331" width="1" height="9" fill="#089981"/><rect x="787" y="334" width="5" height="6" fill="#089981"/><rect x="795" y="333" width="1" height="9" fill="#089981"/><rect x="793" y="334" width="5" height="1" fill="#089981"/><rect x="801" y="310" width="1" height="25" fill="#089981"/><rect x="799" y="317" width="5" height="18" fill="#089981"/><rect x="807" y="272" width="1" height="47" fill="#089981"/><rect x="805" y="275" width="5" height="43" fill="#089981"/><rect x="813" y="267" width="1" height="18" fill="#089981"/><rect x="811" y="273" width="5" height="3" fill="#089981"/><rect x="819" y="271" width="1" height="16" fill="#089981"/><rect x="817" y="271" width="5" height="3" fill="#089981"/><rect x="825" y="258" width="1" height="21" fill="#089981"/><rect x="823" y="266" width="5" height="6" fill="#089981"/><rect x="831" y="261" width="1" height="10" fill="#f23645"/><rect x="829" y="266" width="5" height="1" fill="#f23645"/><rect x="837" y="261" width="1" height="12" fill="#f23645"/><rect x="835" y="266" width="5" height="7" fill="#f23645"/><rect x="843" y="259" width="1" height="20" fill="#089981"/><rect x="841" y="264" width="5" height="9" fill="#089981"/><rect x="849" y="260" width="1" height="12" fill="#f23645"/><rect x="847" y="264" width="5" height="6" fill="#f23645"/><rect x="855" y="262" width="1" height="15" fill="#f23645"/><rect x="853" y="269" width="5" height="1" fill="#f23645"/><rect x="861" y="246" width="1" height="24" fill="#089981"/><rect x="859" y="253" width="5" height="17" fill="#089981"/><rect x="867" y="243" width="1" height="11" fill="#089981"/><rect x="865" y="250" width="5" height="4" fill="#089981"/><rect x="873" y="250" width="1" height="8" fill="#f23645"/><rect x="871" y="250" width="5" height="8" fill="#f23645"/><rect x="879" y="254" width="1" height="15" fill="#f23645"/><rect x="877" y="257" width="5" height="12" fill="#f23645"/><rect x="885" y="262" width="1" height="12" fill="#089981"/><rect x="883" y="266" width="5" height="3" fill="#089981"/><rect x="891" y="250" width="1" height="25" fill="#089981"/><rect x="889" y="251" width="5" height="15" fill="#089981"/><rect x="897" y="245" width="1" height="13" fill="#089981"/><rect x="895" y="249" width="5" height="2" fill="#089981"/><rect x="903" y="200" width="1" height="50" fill="#089981"/><rect x="901" y="205" width="5" height="45" fill="#089981"/><rect x="909" y="197" width="1" height="14" fill="#f23645"/><rect x="907" y="205" width="5" height="3" fill="#f23645"/><rect x="915" y="193" width="1" height="15" fill="#089981"/><rect x="913" y="194" width="5" height="14" fill="#089981"/><rect x="921" y="193" width="1" height="11" fill="#f23645"/><rect x="919" y="194" width="5" height="6" fill="#f23645"/><rect x="927" y="187" width="1" height="34" fill="#f23645"/><rect x="925" y="199" width="5" height="10" fill="#f23645"/><rect x="933" y="192" width="1" height="25" fill="#089981"/><rect x="931" y="198" width="5" height="11" fill="#089981"/><rect x="939" y="197" width="1" height="12" fill="#f23645"/><rect x="937" y="198" width="5" height="6" fill="#f23645"/><rect x="945" y="198" width="1" height="20" fill="#089981"/><rect x="943" y="201" width="5" height="3" fill="#089981"/><rect x="951" y="196" width="1" height="9" fill="#f23645"/><rect x="949" y="201" width="5" height="3" fill="#f23645"/><rect x="957" y="201" width="1" height="8" fill="#f23645"/><rect x="955" y="203" width="5" height="3" fill="#f23645"/><rect x="963" y="181" width="1" height="25" fill="#089981"/><rect x="961" y="182" width="5" height="24" fill="#089981"/><rect x="969" y="178" width="1" height="35" fill="#f23645"/><rect x="967" y="182" width="5" height="7" fill="#f23645"/><rect x="975" y="176" width="1" height="22" fill="#089981"/><rect x="973" y="180" width="5" height="9" fill="#089981"/><rect x="981" y="151" width="1" height="32" fill="#089981"/><rect x="979" y="159" width="5" height="22" fill="#089981"/><rect x="987" y="143" width="1" height="19" fill="#089981"/><rect x="985" y="145" width="5" height="15" fill="#089981"/><rect x="993" y="144" width="1" height="35" fill="#f23645"/><rect x="991" y="145" width="5" height="32" fill="#f23645"/><rect x="999" y="161" width="1" height="18" fill="#089981"/><rect x="997" y="172" width="5" height="5" fill="#089981"/><rect x="1005" y="162" width="1" height="18" fill="#089981"/><rect x="1003" y="164" width="5" height="9" fill="#089981"/><rect x="1011" y="154" width="1" height="12" fill="#089981"/><rect x="1009" y="161" width="5" height="4" fill="#089981"/><rect x="1017" y="151" width="1" height="23" fill="#f23645"/><rect x="1015" y="161" width="5" height="4" fill="#f23645"/><rect x="1023" y="162" width="1" height="17" fill="#f23645"/><rect x="1021" y="164" width="5" height="8" fill="#f23645"/><rect x="1029" y="164" width="1" height="26" fill="#f23645"/><rect x="1027" y="172" width="5" height="17" fill="#f23645"/><rect x="1035" y="183" width="1" height="19" fill="#f23645"/><rect x="1033" y="188" width="5" height="12" fill="#f23645"/><rect x="1041" y="193" width="1" height="13" fill="#089981"/><rect x="1039" y="195" width="5" height="5" fill="#089981"/><rect x="1047" y="186" width="1" height="15" fill="#089981"/><rect x="1045" y="188" width="5" height="8" fill="#089981"/><rect x="1053" y="185" width="1" height="16" fill="#089981"/><rect x="1051" y="186" width="5" height="2" fill="#089981"/><rect x="1059" y="179" width="1" height="14" fill="#f23645"/><rect x="1057" y="186" width="5" height="4" fill="#f23645"/><rect x="1065" y="185" width="1" height="13" fill="#f23645"/><rect x="1063" y="189" width="5" height="6" fill="#f23645"/><rect x="1071" y="186" width="1" height="39" fill="#f23645"/><rect x="1069" y="194" width="5" height="24" fill="#f23645"/><rect x="1077" y="190" width="1" height="30" fill="#089981"/><rect x="1075" y="197" width="5" height="21" fill="#089981"/><rect x="1083" y="185" width="1" height="14" fill="#089981"/><rect x="1081" y="188" width="5" height="10" fill="#089981"/><rect x="1089" y="182" width="1" height="9" fill="#089981"/><rect x="1087" y="187" width="5" height="2" fill="#089981"/><rect x="1095" y="153" width="1" height="35" fill="#089981"/><rect x="1093" y="155" width="5" height="33" fill="#089981"/><rect x="1101" y="154" width="1" height="14" fill="#f23645"/><rect x="1099" y="155" width="5" height="1" fill="#f23645"/><rect x="1107" y="154" width="1" height="16" fill="#f23645"/><rect x="1105" y="155" width="5" height="12" fill="#f23645"/><rect x="1113" y="165" width="1" height="21" fill="#f23645"/><rect x="1111" y="166" width="5" height="20" fill="#f23645"/><rect x="1119" y="184" width="1" height="24" fill="#089981"/><rect x="1117" y="185" width="5" height="1" fill="#089981"/><rect x="1125" y="184" width="1" height="13" fill="#f23645"/><rect x="1123" y="184" width="5" height="5" fill="#f23645"/><rect x="1131" y="184" width="1" height="12" fill="#089981"/><rect x="1129" y="188" width="5" height="1" fill="#089981"/><rect x="1137" y="164" width="1" height="28" fill="#089981"/><rect x="1135" y="179" width="5" height="10" fill="#089981"/><rect x="1143" y="173" width="1" height="31" fill="#f23645"/><rect x="1141" y="179" width="5" height="17" fill="#f23645"/><rect x="1149" y="188" width="1" height="14" fill="#089981"/><rect x="1147" y="193" width="5" height="3" fill="#089981"/><rect x="1155" y="190" width="1" height="10" fill="#f23645"/><rect x="1153" y="193" width="5" height="3" fill="#f23645"/><rect x="1161" y="181" width="1" height="30" fill="#f23645"/><rect x="1159" y="195" width="5" height="10" fill="#f23645"/><rect x="1167" y="199" width="1" height="22" fill="#f23645"/><rect x="1165" y="204" width="5" height="9" fill="#f23645"/><rect x="1173" y="205" width="1" height="35" fill="#f23645"/><rect x="1171" y="212" width="5" height="9" fill="#f23645"/><rect x="1179" y="184" width="1" height="46" fill="#089981"/><rect x="1177" y="188" width="5" height="33" fill="#089981"/><rect x="1185" y="183" width="1" height="10" fill="#089981"/><rect x="1183" y="185" width="5" height="4" fill="#089981"/><rect x="1191" y="170" width="1" height="16" fill="#089981"/><rect x="1189" y="175" width="5" height="11" fill="#089981"/><rect x="1197" y="169" width="1" height="11" fill="#f23645"/><rect x="1195" y="175" width="5" height="4" fill="#f23645"/><rect x="1203" y="173" width="1" height="9" fill="#089981"/><rect x="1201" y="177" width="5" height="1" fill="#089981"/><rect x="1209" y="174" width="1" height="5" fill="#089981"/><rect x="1207" y="175" width="5" height="2" fill="#089981"/><rect x="1215" y="167" width="1" height="10" fill="#089981"/><rect x="1213" y="167" width="5" height="10" fill="#089981"/><rect x="1221" y="165" width="1" height="15" fill="#f23645"/><rect x="1219" y="168" width="5" height="10" fill="#f23645"/><rect x="1227" y="174" width="1" height="16" fill="#f23645"/><rect x="1225" y="177" width="5" height="11" fill="#f23645"/><rect x="1233" y="158" width="1" height="33" fill="#089981"/><rect x="1231" y="165" width="5" height="23" fill="#089981"/><rect x="1239" y="153" width="1" height="14" fill="#089981"/><rect x="1237" y="159" width="5" height="7" fill="#089981"/><rect x="1245" y="158" width="1" height="18" fill="#f23645"/><rect x="1243" y="159" width="5" height="13" fill="#f23645"/><rect x="1251" y="168" width="1" height="4" fill="#089981"/><rect x="1249" y="169" width="5" height="3" fill="#089981"/><rect x="1257" y="159" width="1" height="13" fill="#089981"/><rect x="1255" y="162" width="5" height="8" fill="#089981"/><rect x="1263" y="160" width="1" height="14" fill="#f23645"/><rect x="1261" y="162" width="5" height="8" fill="#f23645"/><rect x="1269" y="162" width="1" height="12" fill="#089981"/><rect x="1267" y="164" width="5" height="6" fill="#089981"/><rect x="1275" y="143" width="1" height="24" fill="#089981"/><rect x="1273" y="147" width="5" height="18" fill="#089981"/><rect x="1281" y="110" width="1" height="41" fill="#089981"/><rect x="1279" y="114" width="5" height="34" fill="#089981"/><rect x="1287" y="94" width="1" height="25" fill="#089981"/><rect x="1285" y="103" width="5" height="11" fill="#089981"/><rect x="1293" y="98" width="1" height="9" fill="#f23645"/><rect x="1291" y="103" width="5" height="1" fill="#f23645"/><rect x="1299" y="89" width="1" height="16" fill="#089981"/><rect x="1297" y="92" width="5" height="13" fill="#089981"/><rect x="1305" y="63" width="1" height="30" fill="#089981"/><rect x="1303" y="86" width="5" height="7" fill="#089981"/><rect x="1311" y="86" width="1" height="30" fill="#f23645"/><rect x="1309" y="86" width="5" height="16" fill="#f23645"/><rect x="1317" y="85" width="1" height="21" fill="#089981"/><rect x="1315" y="94" width="5" height="8" fill="#089981"/><rect x="1323" y="78" width="1" height="25" fill="#089981"/><rect x="1321" y="90" width="5" height="4" fill="#089981"/><rect x="1329" y="79" width="1" height="28" fill="#f23645"/><rect x="1327" y="90" width="5" height="10" fill="#f23645"/><rect x="1335" y="96" width="1" height="8" fill="#f23645"/><rect x="1333" y="100" width="5" height="1" fill="#f23645"/><rect x="1341" y="93" width="1" height="17" fill="#f23645"/><rect x="1339" y="100" width="5" height="6" fill="#f23645"/><rect x="1347" y="88" width="1" height="22" fill="#089981"/><rect x="1345" y="104" width="5" height="1" fill="#089981"/><rect x="1353" y="83" width="1" height="28" fill="#089981"/><rect x="1351" y="85" width="5" height="20" fill="#089981"/><rect x="1359" y="85" width="1" height="19" fill="#f23645"/><rect x="1357" y="85" width="5" height="9" fill="#f23645"/><rect x="1365" y="89" width="1" height="16" fill="#f23645"/><rect x="1363" y="94" width="5" height="4" fill="#f23645"/><rect x="1371" y="96" width="1" height="27" fill="#f23645"/><rect x="1369" y="97" width="5" height="6" fill="#f23645"/><rect x="1377" y="97" width="1" height="8" fill="#089981"/><rect x="1375" y="99" width="5" height="4" fill="#089981"/><rect x="1383" y="87" width="1" height="13" fill="#089981"/><rect x="1381" y="89" width="5" height="11" fill="#089981"/><rect x="1389" y="87" width="1" height="17" fill="#f23645"/><rect x="1387" y="89" width="5" height="11" fill="#f23645"/><rect x="1395" y="91" width="1" height="16" fill="#f23645"/><rect x="1393" y="99" width="5" height="1" fill="#f23645"/><rect x="1401" y="94" width="1" height="20" fill="#f23645"/><rect x="1399" y="100" width="5" height="1" fill="#f23645"/><rect x="1407" y="93" width="1" height="24" fill="#f23645"/><rect x="1405" y="101" width="5" height="16" fill="#f23645"/><rect x="1413" y="113" width="1" height="24" fill="#f23645"/><rect x="1411" y="116" width="5" height="18" fill="#f23645"/><rect x="1419" y="128" width="1" height="14" fill="#f23645"/><rect x="1417" y="133" width="5" height="7" fill="#f23645"/><rect x="1425" y="123" width="1" height="20" fill="#089981"/><rect x="1423" y="127" width="5" height="13" fill="#089981"/><rect x="1431" y="116" width="1" height="12" fill="#089981"/><rect x="1429" y="120" width="5" height="8" fill="#089981"/><rect x="1437" y="120" width="1" height="17" fill="#f23645"/><rect x="1435" y="120" width="5" height="8" fill="#f23645"/><rect x="1443" y="116" width="1" height="17" fill="#089981"/><rect x="1441" y="121" width="5" height="7" fill="#089981"/><rect x="1449" y="102" width="1" height="24" fill="#089981"/><rect x="1447" y="103" width="5" height="19" fill="#089981"/><rect x="1455" y="102" width="1" height="11" fill="#f23645"/><rect x="1453" y="103" width="5" height="7" fill="#f23645"/><rect x="1461" y="100" width="1" height="11" fill="#f23645"/><rect x="1459" y="109" width="5" height="2" fill="#f23645"/><rect x="1467" y="90" width="1" height="21" fill="#089981"/><rect x="1465" y="90" width="5" height="21" fill="#089981"/><rect x="1473" y="69" width="1" height="29" fill="#f23645"/><rect x="1471" y="90" width="5" height="5" fill="#f23645"/><rect x="1479" y="83" width="1" height="15" fill="#089981"/><rect x="1477" y="84" width="5" height="12" fill="#089981"/><rect x="1485" y="59" width="1" height="34" fill="#089981"/><rect x="1483" y="62" width="5" height="23" fill="#089981"/><rect x="1491" y="54" width="1" height="51" fill="#f23645"/><rect x="1489" y="62" width="5" height="35" fill="#f23645"/><rect x="1497" y="90" width="1" height="18" fill="#f23645"/><rect x="1495" y="97" width="5" height="8" fill="#f23645"/><rect x="1503" y="100" width="1" height="5" fill="#089981"/><rect x="1501" y="103" width="5" height="1" fill="#089981"/><rect x="1509" y="95" width="1" height="10" fill="#f23645"/><rect x="1507" y="103" width="5" height="1" fill="#f23645"/><rect x="1515" y="102" width="1" height="21" fill="#f23645"/><rect x="1513" y="104" width="5" height="8" fill="#f23645"/><rect x="1521" y="109" width="1" height="28" fill="#f23645"/><rect x="1519" y="112" width="5" height="25" fill="#f23645"/><rect x="1527" y="124" width="1" height="16" fill="#089981"/><rect x="1525" y="126" width="5" height="11" fill="#089981"/><rect x="1533" y="122" width="1" height="20" fill="#f23645"/><rect x="1531" y="126" width="5" height="14" fill="#f23645"/><rect x="1539" y="104" width="1" height="41" fill="#089981"/><rect x="1537" y="108" width="5" height="32" fill="#089981"/><rect x="1545" y="107" width="1" height="17" fill="#f23645"/><rect x="1543" y="108" width="5" height="10" fill="#f23645"/><rect x="1551" y="117" width="1" height="31" fill="#f23645"/><rect x="1549" y="118" width="5" height="14" fill="#f23645"/><rect x="1557" y="131" width="1" height="30" fill="#f23645"/><rect x="1555" y="132" width="5" height="25" fill="#f23645"/><rect x="1563" y="140" width="1" height="25" fill="#089981"/><rect x="1561" y="144" width="5" height="13" fill="#089981"/><rect x="1569" y="138" width="1" height="16" fill="#f23645"/><rect x="1567" y="144" width="5" height="5" fill="#f23645"/><rect x="1575" y="132" width="1" height="18" fill="#089981"/><rect x="1573" y="139" width="5" height="10" fill="#089981"/><rect x="1581" y="138" width="1" height="36" fill="#f23645"/><rect x="1579" y="138" width="5" height="31" fill="#f23645"/><rect x="1587" y="164" width="1" height="11" fill="#089981"/><rect x="1585" y="165" width="5" height="4" fill="#089981"/><rect x="1593" y="160" width="1" height="10" fill="#f23645"/><rect x="1591" y="165" width="5" height="5" fill="#f23645"/><rect x="1599" y="157" width="1" height="19" fill="#089981"/><rect x="1597" y="162" width="5" height="8" fill="#089981"/><rect x="1603" y="155" width="5" height="1" fill="#089981"/></g>
<line x1="10" y1="155.5" x2="1668" y2="155.5" stroke="#089981" stroke-width="1" stroke-dasharray="1 2" shape-rendering="crispEdges"/>
<line x1="10" y1="497.5" x2="1668" y2="497.5" stroke="#787b86" stroke-width="1" stroke-dasharray="5 6" shape-rendering="crispEdges"/>
<line x1="10" y1="563.5" x2="1668" y2="563.5" stroke="#787b86" stroke-width="1" stroke-dasharray="5 6" shape-rendering="crispEdges"/>
<line x1="10" y1="629.5" x2="1668" y2="629.5" stroke="#787b86" stroke-width="1" stroke-dasharray="5 6" shape-rendering="crispEdges"/>
<polyline points="9.5,538.24 15.5,517.63 21.5,526.56 27.5,519.69 33.5,520.55 39.5,506.47 45.5,498.74 51.5,498.40 57.5,548.54 63.5,564.34 69.5,562.79 75.5,566.06 81.5,579.11 87.5,581.69 93.5,554.21 99.5,550.26 105.5,573.44 111.5,582.89 117.5,575.67 123.5,584.95 129.5,590.27 135.5,584.09 141.5,576.02 147.5,557.47 153.5,549.40 159.5,548.20 165.5,547.34 171.5,523.12 177.5,563.14 183.5,575.16 189.5,589.24 195.5,573.96 201.5,574.82 207.5,575.50 213.5,574.82 219.5,558.85 225.5,533.60 231.5,539.44 237.5,514.54 243.5,515.05 249.5,541.33 255.5,536.00 261.5,516.26 267.5,534.46 273.5,532.74 279.5,528.45 285.5,529.65 291.5,544.75 297.5,550.76 303.5,556.77 309.5,540.46 315.5,533.24 321.5,552.48 327.5,567.07 333.5,585.97 339.5,559.35 345.5,580.81 351.5,587.17 357.5,587.51 363.5,588.03 369.5,588.37 375.5,588.20 381.5,579.44 387.5,591.46 393.5,571.71 399.5,581.33 405.5,573.60 411.5,572.57 417.5,584.25 423.5,587.34 429.5,589.74 435.5,576.00 441.5,559.35 447.5,579.61 453.5,574.80 459.5,577.89 465.5,613.44 471.5,629.24 477.5,646.42 483.5,642.64 489.5,643.84 495.5,624.61 501.5,559.00 507.5,599.19 513.5,591.98 519.5,572.74 525.5,576.00 531.5,590.26 537.5,593.69 543.5,614.30 549.5,621.69 555.5,594.90 561.5,589.91 567.5,600.56 573.5,583.90 579.5,582.02 585.5,589.26 591.5,580.50 597.5,586.69 603.5,563.50 609.5,576.21 615.5,577.07 621.5,578.10 627.5,563.50 633.5,555.60 639.5,555.95 645.5,559.55 651.5,558.35 657.5,577.58 663.5,588.23 669.5,589.61 675.5,587.89 681.5,566.76 687.5,584.11 693.5,578.79 699.5,573.29 705.5,575.35 711.5,608.15 717.5,599.39 723.5,614.68 729.5,568.48 735.5,583.59 741.5,562.13 747.5,552.17 753.5,560.75 759.5,556.46 765.5,561.61 771.5,559.55 777.5,554.23 783.5,557.15 789.5,553.03 795.5,552.17 801.5,535.51 807.5,505.46 813.5,504.08 819.5,502.88 825.5,499.45 831.5,500.30 837.5,509.75 843.5,503.40 849.5,511.12 855.5,512.33 861.5,498.07 867.5,496.35 873.5,509.80 879.5,528.35 885.5,525.26 891.5,510.66 897.5,508.94 903.5,477.69 909.5,480.95 915.5,474.25 921.5,481.81 927.5,497.27 933.5,490.91 939.5,498.47 945.5,497.44 951.5,501.22 957.5,505.17 963.5,485.76 969.5,497.27 975.5,490.40 981.5,476.66 987.5,468.59 993.5,518.39 999.5,515.81 1005.5,508.94 1011.5,506.54 1017.5,512.04 1023.5,525.26 1029.5,547.58 1035.5,562.52 1041.5,556.69 1047.5,548.10 1053.5,546.38 1059.5,551.88 1065.5,558.75 1071.5,584.51 1077.5,560.46 1083.5,550.50 1089.5,548.96 1095.5,517.53 1101.5,518.05 1107.5,534.70 1113.5,558.75 1119.5,557.54 1125.5,563.38 1131.5,562.52 1137.5,551.36 1143.5,571.28 1149.5,568.96 1155.5,570.88 1161.5,582.81 1167.5,592.04 1173.5,602.62 1179.5,556.46 1185.5,552.04 1191.5,541.65 1197.5,545.88 1203.5,544.54 1209.5,542.04 1215.5,533.38 1221.5,548.19 1227.5,563.58 1233.5,535.31 1239.5,529.15 1245.5,546.85 1251.5,544.92 1257.5,536.27 1263.5,546.85 1269.5,541.08 1275.5,520.88 1281.5,493.38 1287.5,486.27 1293.5,487.23 1299.5,479.92 1305.5,476.27 1311.5,503.19 1317.5,497.81 1323.5,494.92 1329.5,510.88 1335.5,511.85 1341.5,520.31 1347.5,518.96 1353.5,501.08 1359.5,517.04 1365.5,522.81 1371.5,532.04 1377.5,529.15 1383.5,516.46 1389.5,536.27 1395.5,536.65 1401.5,538.04 1407.5,563.57 1413.5,589.11 1419.5,596.07 1425.5,575.18 1431.5,566.61 1437.5,575.54 1443.5,564.46 1449.5,541.25 1455.5,549.82 1461.5,552.32 1467.5,527.32 1473.5,534.11 1479.5,521.96 1485.5,501.43 1491.5,551.61 1497.5,559.11 1503.5,558.57 1509.5,558.93 1515.5,570.36 1521.5,595.36 1527.5,582.32 1533.5,594.46 1539.5,558.21 1545.5,569.82 1551.5,582.32 1557.5,600.54 1563.5,587.32 1569.5,590.36 1575.5,580.18 1581.5,603.21 1587.5,600.18 1593.5,602.86 1599.5,593.57 1605.5,584.64" fill="none" stroke="#7e57c2" stroke-width="1.1" stroke-linejoin="round" clip-path="url(#cr)"/>
<g clip-path="url(#ca)">
<text x="1676.0" y="18.1" font-size="12" fill="#131722" textLength="59.199999999999996" lengthAdjust="spacingAndGlyphs" stroke="#131722" stroke-width="0.22">130,000.00</text>
<text x="1676.0" y="53.2" font-size="12" fill="#131722" textLength="59.199999999999996" lengthAdjust="spacingAndGlyphs" stroke="#131722" stroke-width="0.22">125,000.00</text>
<text x="1676.0" y="88.2" font-size="12" fill="#131722" textLength="59.199999999999996" lengthAdjust="spacingAndGlyphs" stroke="#131722" stroke-width="0.22">120,000.00</text>
<text x="1676.0" y="124.2" font-size="12" fill="#131722" textLength="59.199999999999996" lengthAdjust="spacingAndGlyphs" stroke="#131722" stroke-width="0.22">115,000.00</text>
<text x="1676.0" y="160.2" font-size="12" fill="#131722" textLength="59.199999999999996" lengthAdjust="spacingAndGlyphs" stroke="#131722" stroke-width="0.22">110,000.00</text>
<text x="1676.0" y="195.2" font-size="12" fill="#131722" textLength="59.199999999999996" lengthAdjust="spacingAndGlyphs" stroke="#131722" stroke-width="0.22">105,000.00</text>
<text x="1676.0" y="231.2" font-size="12" fill="#131722" textLength="59.199999999999996" lengthAdjust="spacingAndGlyphs" stroke="#131722" stroke-width="0.22">100,000.00</text>
<text x="1676.0" y="267.2" font-size="12" fill="#131722" textLength="53.099999999999994" lengthAdjust="spacingAndGlyphs" stroke="#131722" stroke-width="0.22">95,000.00</text>
<text x="1676.0" y="302.2" font-size="12" fill="#131722" textLength="53.099999999999994" lengthAdjust="spacingAndGlyphs" stroke="#131722" stroke-width="0.22">90,000.00</text>
<text x="1676.0" y="338.2" font-size="12" fill="#131722" textLength="53.099999999999994" lengthAdjust="spacingAndGlyphs" stroke="#131722" stroke-width="0.22">85,000.00</text>
<text x="1676.0" y="373.2" font-size="12" fill="#131722" textLength="53.099999999999994" lengthAdjust="spacingAndGlyphs" stroke="#131722" stroke-width="0.22">80,000.00</text>
<text x="1676.0" y="409.2" font-size="12" fill="#131722" textLength="53.099999999999994" lengthAdjust="spacingAndGlyphs" stroke="#131722" stroke-width="0.22">75,000.00</text>
<text x="1676.0" y="445.2" font-size="12" fill="#131722" textLength="53.099999999999994" lengthAdjust="spacingAndGlyphs" stroke="#131722" stroke-width="0.22">70,000.00</text>
</g>
<g clip-path="url(#cb)">
<text x="1676.0" y="468.7" font-size="12" fill="#131722" textLength="30.2" lengthAdjust="spacingAndGlyphs" stroke="#131722" stroke-width="0.22">80.00</text>
<text x="1676.0" y="500.8" font-size="12" fill="#131722" textLength="30.2" lengthAdjust="spacingAndGlyphs" stroke="#131722" stroke-width="0.22">70.00</text>
<text x="1676.0" y="533.8" font-size="12" fill="#131722" textLength="30.2" lengthAdjust="spacingAndGlyphs" stroke="#131722" stroke-width="0.22">60.00</text>
<text x="1676.0" y="566.9" font-size="12" fill="#131722" textLength="30.2" lengthAdjust="spacingAndGlyphs" stroke="#131722" stroke-width="0.22">50.00</text>
<text x="1676.0" y="599.9" font-size="12" fill="#131722" textLength="30.2" lengthAdjust="spacingAndGlyphs" stroke="#131722" stroke-width="0.22">40.00</text>
<text x="1676.0" y="633.0" font-size="12" fill="#131722" textLength="30.2" lengthAdjust="spacingAndGlyphs" stroke="#131722" stroke-width="0.22">30.00</text>
<text x="1676.0" y="666.0" font-size="12" fill="#131722" textLength="30.2" lengthAdjust="spacingAndGlyphs" stroke="#131722" stroke-width="0.22">20.00</text>
</g>
<path d="M1668 130h71.5a2 2 0 0 1 2 2v13a2 2 0 0 1 -2 2h-71.5z" fill="#2196f3"/>
<path d="M1668 147h71.5a2 2 0 0 1 2 2v13a2 2 0 0 1 -2 2h-71.5z" fill="#089981"/>
<text x="1676.0" y="142.0" font-size="12" fill="#fff" textLength="59.4" lengthAdjust="spacingAndGlyphs" stroke="#fff" stroke-width="0.3">110,473.90</text>
<text x="1676.0" y="159.2" font-size="12" fill="#fff" textLength="59.4" lengthAdjust="spacingAndGlyphs" stroke="#fff" stroke-width="0.3">110,287.66</text>
<path d="M1668 399h56a2 2 0 0 1 2 2v13a2 2 0 0 1 -2 2h-56z" fill="#22ab94"/>
<text x="1675.6" y="411.2" font-size="12" fill="#fff" textLength="45.4" lengthAdjust="spacingAndGlyphs" stroke="#fff" stroke-width="0.3">64.124B</text>
<path d="M1668 577.2h40.9a2 2 0 0 1 2 2v12.600000000000001a2 2 0 0 1 -2 2h-40.9z" fill="#7e57c2"/>
<text x="1675.4" y="590.0" font-size="12" fill="#fff" textLength="30.4" lengthAdjust="spacingAndGlyphs" stroke="#fff" stroke-width="0.3">43.32</text>
<text x="18.2" y="28.6" font-size="12" fill="#131722" textLength="157.8" lengthAdjust="spacingAndGlyphs" stroke="#131722" stroke-width="0.22">BTC/USD, 1D, CoinMarketCap</text>
<text x="183.6" y="28.6" font-size="12" fill="#131722" textLength="7.8" lengthAdjust="spacingAndGlyphs" stroke="#131722" stroke-width="0.22">O</text>
<text x="192.6" y="28.6" font-size="12" fill="#089981" textLength="57.8" lengthAdjust="spacingAndGlyphs" stroke="#089981" stroke-width="0.22">110,287.66</text>
<text x="258.2" y="28.6" font-size="12" fill="#131722" textLength="8" lengthAdjust="spacingAndGlyphs" stroke="#131722" stroke-width="0.22">H</text>
<text x="266.9" y="28.6" font-size="12" fill="#089981" textLength="57.8" lengthAdjust="spacingAndGlyphs" stroke="#089981" stroke-width="0.22">110,287.66</text>
<text x="332.3" y="28.6" font-size="12" fill="#131722" textLength="6.2" lengthAdjust="spacingAndGlyphs" stroke="#131722" stroke-width="0.22">L</text>
<text x="339.3" y="28.6" font-size="12" fill="#089981" textLength="57.8" lengthAdjust="spacingAndGlyphs" stroke="#089981" stroke-width="0.22">110,287.66</text>
<text x="404.6" y="28.6" font-size="12" fill="#131722" textLength="7.2" lengthAdjust="spacingAndGlyphs" stroke="#131722" stroke-width="0.22">C</text>
<text x="412.5" y="28.6" font-size="12" fill="#089981" textLength="57.8" lengthAdjust="spacingAndGlyphs" stroke="#089981" stroke-width="0.22">110,287.66</text>
<text x="478.4" y="28.6" font-size="12" fill="#089981" textLength="101.8" lengthAdjust="spacingAndGlyphs" stroke="#089981" stroke-width="0.22">+1,037.06 (+0.95%)</text>
<text x="18.2" y="45.7" font-size="12" fill="#131722" textLength="38.4" lengthAdjust="spacingAndGlyphs" stroke="#131722" stroke-width="0.22">Volume</text>
<text x="64.4" y="45.7" font-size="12" fill="#22ab94" textLength="45" lengthAdjust="spacingAndGlyphs" stroke="#22ab94" stroke-width="0.22">64.124B</text>
<text x="18.2" y="62.7" font-size="12" fill="#131722" textLength="90" lengthAdjust="spacingAndGlyphs" stroke="#131722" stroke-width="0.22">EMA (9, close, 0)</text>
<text x="116.4" y="62.7" font-size="12" fill="#2196f3" textLength="58.6" lengthAdjust="spacingAndGlyphs" stroke="#2196f3" stroke-width="0.22">110,473.90</text>
<text x="18.2" y="465.6" font-size="12" fill="#131722" textLength="40.4" lengthAdjust="spacingAndGlyphs" stroke="#131722" stroke-width="0.22">RSI (14)</text>
<text x="66.4" y="465.6" font-size="12" fill="#7e57c2" textLength="29.4" lengthAdjust="spacingAndGlyphs" stroke="#7e57c2" stroke-width="0.22">43.32</text>
<text x="39.2" y="682.7" font-size="12" fill="#131722" text-anchor="middle" textLength="11.8" lengthAdjust="spacingAndGlyphs" stroke="#131722" stroke-width="0.22">15</text>
<text x="141.2" y="682.7" font-size="12" fill="#131722" text-anchor="middle" textLength="27.4" lengthAdjust="spacingAndGlyphs" font-weight="bold" stroke="#131722" stroke-width="0.22">2025</text>
<text x="225.2" y="682.7" font-size="12" fill="#131722" text-anchor="middle" textLength="11.8" lengthAdjust="spacingAndGlyphs" stroke="#131722" stroke-width="0.22">15</text>
<text x="327.2" y="682.7" font-size="12" fill="#131722" text-anchor="middle" textLength="19.4" lengthAdjust="spacingAndGlyphs" stroke="#131722" stroke-width="0.22">Feb</text>
<text x="411.2" y="682.7" font-size="12" fill="#131722" text-anchor="middle" textLength="11.8" lengthAdjust="spacingAndGlyphs" stroke="#131722" stroke-width="0.22">15</text>
<text x="495.2" y="682.7" font-size="12" fill="#131722" text-anchor="middle" textLength="19.8" lengthAdjust="spacingAndGlyphs" stroke="#131722" stroke-width="0.22">Mar</text>
<text x="579.2" y="682.7" font-size="12" fill="#131722" text-anchor="middle" textLength="11.8" lengthAdjust="spacingAndGlyphs" stroke="#131722" stroke-width="0.22">15</text>
<text x="681.2" y="682.7" font-size="12" fill="#131722" text-anchor="middle" textLength="18.6" lengthAdjust="spacingAndGlyphs" stroke="#131722" stroke-width="0.22">Apr</text>
<text x="765.2" y="682.7" font-size="12" fill="#131722" text-anchor="middle" textLength="11.8" lengthAdjust="spacingAndGlyphs" stroke="#131722" stroke-width="0.22">15</text>
<text x="861.2" y="682.7" font-size="12" fill="#131722" text-anchor="middle" textLength="21.6" lengthAdjust="spacingAndGlyphs" stroke="#131722" stroke-width="0.22">May</text>
<text x="945.2" y="682.7" font-size="12" fill="#131722" text-anchor="middle" textLength="11.8" lengthAdjust="spacingAndGlyphs" stroke="#131722" stroke-width="0.22">15</text>
<text x="1047.2" y="682.7" font-size="12" fill="#131722" text-anchor="middle" textLength="19.2" lengthAdjust="spacingAndGlyphs" stroke="#131722" stroke-width="0.22">Jun</text>
<text x="1131.2" y="682.7" font-size="12" fill="#131722" text-anchor="middle" textLength="11.8" lengthAdjust="spacingAndGlyphs" stroke="#131722" stroke-width="0.22">15</text>
<text x="1227.2" y="682.7" font-size="12" fill="#131722" text-anchor="middle" textLength="15.4" lengthAdjust="spacingAndGlyphs" stroke="#131722" stroke-width="0.22">Jul</text>
<text x="1311.2" y="682.7" font-size="12" fill="#131722" text-anchor="middle" textLength="11.8" lengthAdjust="spacingAndGlyphs" stroke="#131722" stroke-width="0.22">15</text>
<text x="1413.2" y="682.7" font-size="12" fill="#131722" text-anchor="middle" textLength="19.8" lengthAdjust="spacingAndGlyphs" stroke="#131722" stroke-width="0.22">Aug</text>
<text x="1497.2" y="682.7" font-size="12" fill="#131722" text-anchor="middle" textLength="11.8" lengthAdjust="spacingAndGlyphs" stroke="#131722" stroke-width="0.22">15</text>
<text x="1599.2" y="682.7" font-size="12" fill="#131722" text-anchor="middle" textLength="19.2" lengthAdjust="spacingAndGlyphs" stroke="#131722" stroke-width="0.22">Sep</text>
<g transform="translate(10,705.2) scale(0.5444,0.5333)" fill="#131722"><path d="M14 18H7V7H0V0h14v18z"/><circle cx="20" cy="4" r="4"/><path d="M28 18h-8l7.5-18h8L28 18z"/></g>
<text x="33" y="714.8" font-size="13" fill="#131722" textLength="70.4" lengthAdjust="spacingAndGlyphs" stroke="#131722" stroke-width="0.22">TradingView</text>
</svg></body></html>
